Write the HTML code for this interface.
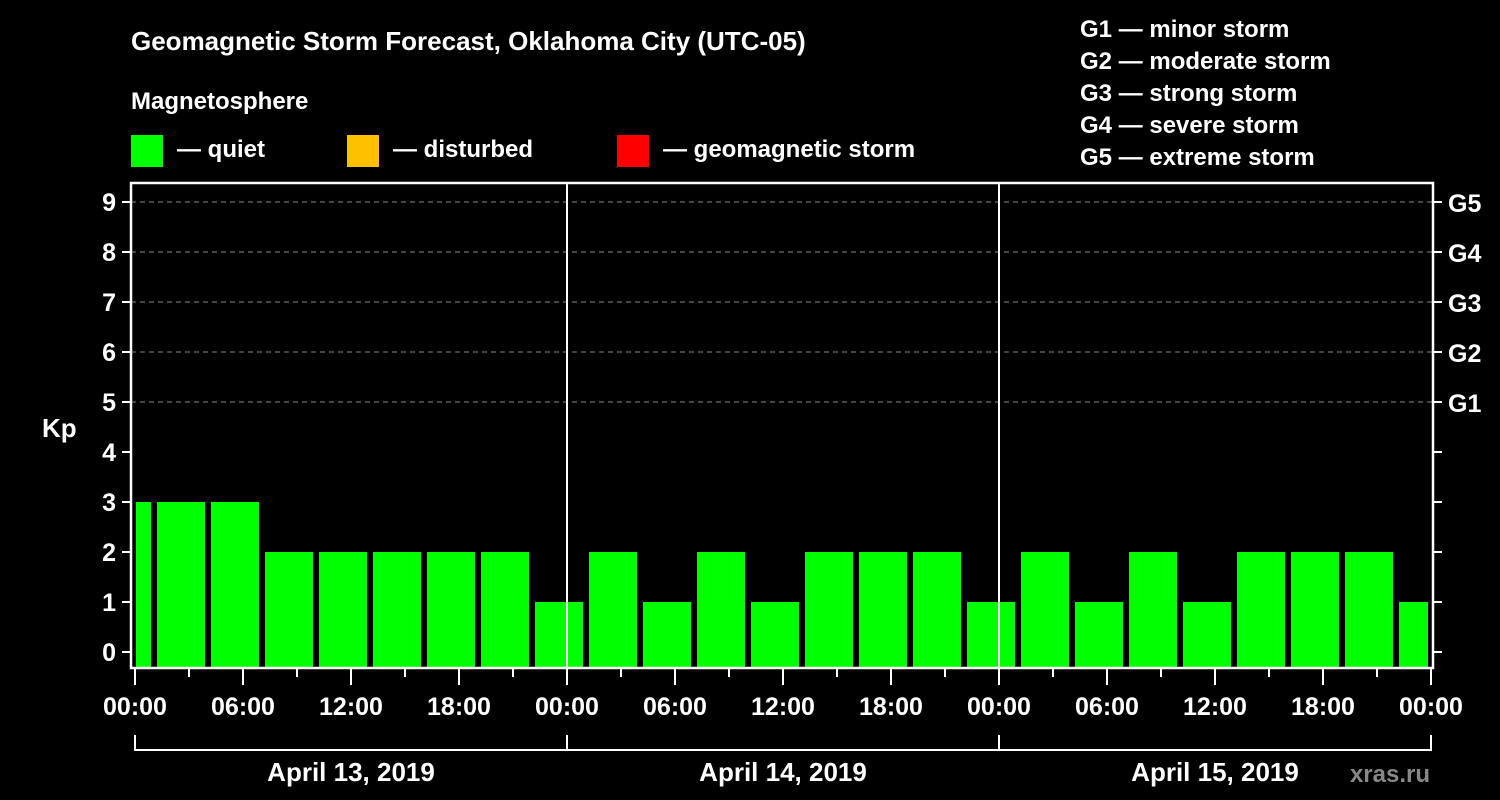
<!DOCTYPE html>
<html><head><meta charset="utf-8"><style>
body{margin:0;background:#000;width:1500px;height:800px;overflow:hidden}
svg{display:block;font-family:"Liberation Sans",sans-serif;font-weight:bold}
</style></head><body>
<svg id="c" width="1500" height="800">
<text x="131" y="50" fill="#fff" font-size="26">Geomagnetic Storm Forecast, Oklahoma City (UTC-05)</text>
<text x="131" y="109" fill="#fff" font-size="24">Magnetosphere</text>
<rect x="131" y="135" width="32" height="32" fill="#00ff00"/>
<text x="177" y="157" fill="#fff" font-size="24">— quiet</text>
<rect x="347" y="135" width="32" height="32" fill="#ffc000"/>
<text x="393" y="157" fill="#fff" font-size="24">— disturbed</text>
<rect x="617" y="135" width="32" height="32" fill="#ff0000"/>
<text x="663" y="157" fill="#fff" font-size="24">— geomagnetic storm</text>
<g fill="#fff" font-size="24">
<text x="1080" y="37">G1 — minor storm</text>
<text x="1080" y="69">G2 — moderate storm</text>
<text x="1080" y="101">G3 — strong storm</text>
<text x="1080" y="133">G4 — severe storm</text>
<text x="1080" y="165">G5 — extreme storm</text>
</g>
<text x="42" y="437" fill="#fff" font-size="26">Kp</text>
<text x="1430" y="782" fill="#888" font-size="24" text-anchor="end" font-weight="normal" style="font-weight:bold">xras.ru</text>
<g id="grid"></g><g id="bars"></g><g id="axes"></g>
</svg>
<script>
const kpValues=[3,3,3,2,2,2,2,2,1,2,1,2,1,2,2,2,1,2,1,2,1,2,2,2,1];
const blockStartHours=-2;
const yTicks=[0,1,2,3,4,5,6,7,8,9];
const gLabels=["G1","G2","G3","G4","G5"];
const gLevels=[5,6,7,8,9];
const dayLabels=["April 13, 2019","April 14, 2019","April 15, 2019"];
const hourLabels=["00:00","06:00","12:00","18:00"];
const NS="http://www.w3.org/2000/svg";
const X0=135,PX_H=18,L=131,R=1433,T=183,B=668;
const xs=h=>X0+h*PX_H;
const ys=v=>652-v*50;
function mk(p,tag,a){const e=document.createElementNS(NS,tag);for(const k in a)e.setAttribute(k,a[k]);p.appendChild(e);return e;}
const grid=document.getElementById('grid'),bars=document.getElementById('bars'),axes=document.getElementById('axes');
yTicks.forEach(v=>{
 if(v>=5){const g=mk(grid,'line',{x1:L,x2:R,y1:ys(v),y2:ys(v),stroke:'#888','stroke-dasharray':'5,4','stroke-width':1});
 
 }
 const t=mk(axes,'line',{x1:L-9,x2:L,y1:ys(v),y2:ys(v),stroke:'#fff','stroke-width':2});
 
 
 const t2=mk(axes,'line',{x1:R,x2:R+9,y1:ys(v),y2:ys(v),stroke:'#fff','stroke-width':2});
 
 
 const tx=mk(axes,'text',{x:L-15,y:ys(v)+9,fill:'#fff','font-size':25,'text-anchor':'end'});tx.textContent=v;
 
 
});
gLabels.forEach((g,i)=>{const tx=mk(axes,'text',{x:R+15,y:ys(gLevels[i])+10,fill:'#fff','font-size':25});tx.textContent=g;
 
 });
kpValues.forEach((v,i)=>{
 const s=blockStartHours+i*3;
 const x0=Math.max(xs(s)+4,X0+1),x1=Math.min(xs(s+3)-2,R-5);
 const c=v>=5?'#ff0000':(v>=4?'#ffc000':'#00ff00');
 const r=mk(bars,'rect',{x:x0,y:ys(v),width:x1-x0,height:B-1-ys(v),fill:c});
 
 
});
mk(axes,'rect',{x:L,y:T,width:R-L,height:B-T,fill:'none',stroke:'#fff','stroke-width':2.5});
for(let d=1;d<3;d++){const l=mk(axes,'line',{x1:xs(24*d),x2:xs(24*d),y1:T,y2:B,stroke:'#fff','stroke-width':2});
 
 }
for(let h=0;h<=72;h+=3){const long=h%6==0;
 const l=mk(axes,'line',{x1:xs(h),x2:xs(h),y1:B,y2:long?685:677,stroke:'#fff','stroke-width':2});
 
 
 if(long){const tx=mk(axes,'text',{x:xs(h),y:715,fill:'#fff','font-size':25,'text-anchor':'middle'});tx.textContent=hourLabels[(h/6)%4];
 
 }}
mk(axes,'path',{d:`M${xs(0)} 735V750H${xs(72)}V735M${xs(24)} 735V750M${xs(48)} 735V750`,fill:'none',stroke:'#fff','stroke-width':2});
dayLabels.forEach((d,i)=>{const tx=mk(axes,'text',{x:xs(24*i+12),y:781,fill:'#fff','font-size':26,'text-anchor':'middle'});tx.textContent=d;
 
 });
</script>
</body></html>
